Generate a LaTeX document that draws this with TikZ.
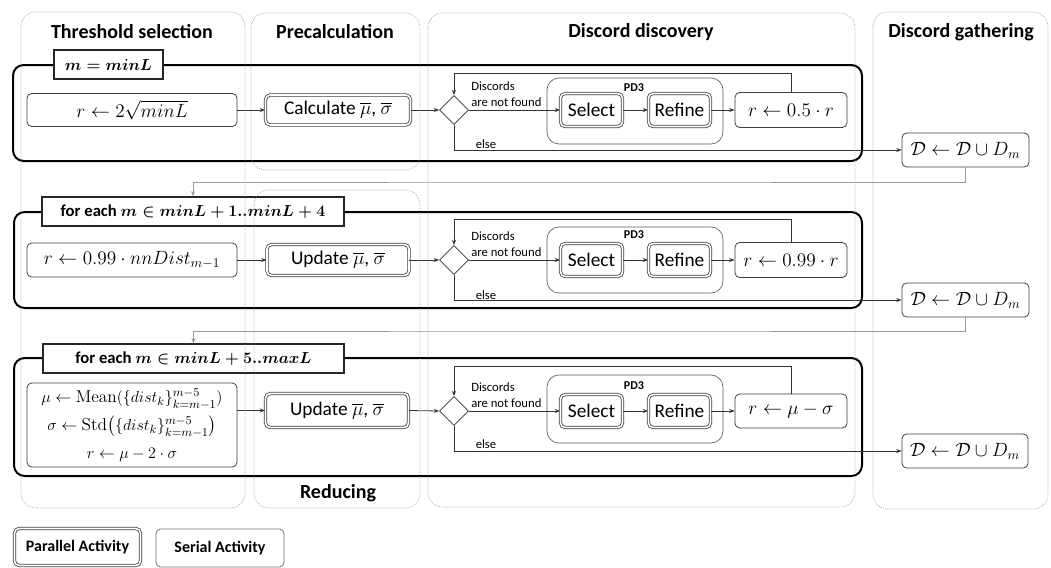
\documentclass[tikz,border=0pt]{standalone}
\usepackage{amsmath,amssymb}
\usepackage{fontspec}
\setmainfont{Carlito}
\newfontfamily\lmrm{Latin Modern Roman}
\usetikzlibrary{arrows.meta,shapes.geometric}
\begin{document}
\begin{tikzpicture}[x=0.75pt,y=-0.75pt,
  lane/.style={draw=black!45, densely dotted, line width=0.5pt, rounded corners=11pt},
  loopframe/.style={draw=black, line width=1.5pt, rounded corners=8pt},
  ttl/.style={font=\fontsize{15}{17}\selectfont\bfseries, inner sep=0pt},
  lbl/.style={draw=black!85, line width=0.8pt, fill=white, font=\fontsize{12.5}{14}\selectfont\bfseries\boldmath, inner sep=0pt},
  sbox/.style={draw=black!75, line width=0.6pt, rounded corners=3.5pt, fill=white, inner sep=0pt, font=\fontsize{14.5}{17}\selectfont},
  tbox/.style={font=\fontsize{14.5}{17}\selectfont},
  pbox/.style={sbox, double, double distance=1.2pt, line width=0.6pt},
  grp/.style={draw=black!65, line width=0.5pt, rounded corners=9pt},
  dia/.style={diamond, draw=black!80, line width=0.6pt, fill=white, inner sep=0pt, minimum width=29*0.75pt, minimum height=29*0.75pt},
  sz/.style 2 args={minimum width=#1*0.75pt, minimum height=#2*0.75pt},
  small/.style={font=\fontsize{9.5}{11.5}\selectfont, inner sep=0pt, align=left},
  pd/.style={font=\fontsize{9}{10}\selectfont\bfseries, inner sep=0pt},
  conn/.style={draw=black!80, line width=0.6pt, -{Stealth[length=4pt,width=3pt]}},
  back/.style={draw=black!40, line width=0.6pt, -{Stealth[length=4pt,width=3pt]}},
]
\useasboundingbox (0,0) rectangle (1051,568);
\fill[white] (0,0) rectangle (1051,568);

% titles
\node[ttl] (t1) at (132,32) {Threshold selection};
\node[ttl] (t2) at (335,32) {Precalculation};
\node[ttl] (t3) at (641,32) {Discord discovery};
\node[ttl] (t4) at (961,32) {Discord gathering};
\node[ttl] (t5) at (338,493) {Reducing};

% loop frames
\draw[loopframe] (13,65) rectangle (862,161);
\draw[loopframe] (14,212) rectangle (862,308);
\draw[loopframe] (14,358) rectangle (862,476);

\node[lbl, sz={109}{29}] (L1) at (108.5,64.5) {$m = minL$};
\node[lbl, sz={302}{29}] (L2) at (193,211.5) {for each $m \in minL + 1..minL + 4$};
\node[lbl, sz={301}{29}] (L3) at (193.5,358.5) {for each $m \in minL + 5..maxL$};

% ---------- row 1
\node[sbox, sz={210}{33}] (R1) at (132,110) {$r \leftarrow 2\sqrt{minL}$};
\node[pbox, tbox, sz={145}{30}] (C1) at (338,110) {Calculate $\overline{\mu}$, $\overline{\sigma}$};
\node[dia] (D1) at (454,110) {};
\node[grp, sz={176}{66}] (G1) at (635,111) {};
\node[pbox, sz={62}{33}] (S1) at (591.5,110) {Select};
\node[pbox, sz={62}{33}] (F1) at (679.5,110) {Refine};
\node[sbox, sz={112}{35}] (Q1) at (791,110) {$r \leftarrow 0.5\cdot r$};
\node[sbox, sz={127}{34}] (DD1) at (965.5,150) {$\mathcal{D} \leftarrow \mathcal{D} \cup D_m$};
\node[pd] (P1) at (634,88) {PD3};
\node[small, anchor=west] (n1) at (471,94) {Discords\\are not found};
\node[small] (e1) at (486,144) {else};
\coordinate (k1) at (454,73);
\coordinate (b1) at (580,182);

% ---------- row 2
\node[sbox, sz={210}{34}] (R2) at (132,260) {$r \leftarrow 0.99\cdot nnDist_{m-1}$};
\node[pbox, tbox, sz={142}{31}] (U2) at (338,260) {Update $\overline{\mu}$, $\overline{\sigma}$};
\node[dia] (D2) at (454,260) {};
\node[grp, sz={176}{66}] (G2) at (635,260) {};
\node[pbox, sz={62}{33}] (S2) at (591.5,260) {Select};
\node[pbox, sz={62}{33}] (F2) at (679.5,260) {Refine};
\node[sbox, sz={112}{35}] (Q2) at (791,260) {$r \leftarrow 0.99\cdot r$};
\node[sbox, sz={127}{34}] (DD2) at (965.5,300) {$\mathcal{D} \leftarrow \mathcal{D} \cup D_m$};
\node[pd] (P2) at (634,235) {PD3};
\node[small, anchor=west] (n2) at (471,244) {Discords\\are not found};
\node[small] (e2) at (486,295) {else};
\coordinate (k2) at (454,219);
\coordinate (b2) at (580,331);

% ---------- row 3
\node[sbox, sz={210}{84}, align=center, font=\fontsize{13}{21}\selectfont] (R3) at (132,425)
  {$\mu \leftarrow \text{\lmrm Mean}(\{dist_k\}_{k=m-1}^{m-5})$\\
   $\sigma \leftarrow \text{\lmrm Std}\bigl(\{dist_k\}_{k=m-1}^{m-5}\bigr)$\\
   $r \leftarrow \mu - 2\cdot\sigma$};
\node[pbox, tbox, sz={143}{34}] (U3) at (337,410.5) {Update $\overline{\mu}$, $\overline{\sigma}$};
\node[dia] (D3) at (454,411) {};
\node[grp, sz={176}{68}] (G3) at (635,409) {};
\node[pbox, sz={62}{33}] (S3) at (591.5,411) {Select};
\node[pbox, sz={62}{33}] (F3) at (679.5,411) {Refine};
\node[sbox, sz={112}{34}] (Q3) at (791,411) {$r \leftarrow \mu - \sigma$};
\node[sbox, sz={126}{34}] (DD3) at (965,451) {$\mathcal{D} \leftarrow \mathcal{D} \cup D_m$};
\node[pd] (P3) at (634,386) {PD3};
\node[small, anchor=west] (n3) at (471,395) {Discords\\are not found};
\node[small] (e3) at (486,444) {else};
\coordinate (k3) at (454,366);

% ---------- connectors
\foreach \i in {1,2,3}{
  \draw[conn] (D\i.east) -- (S\i.west);
  \draw[conn] (S\i.east) -- (F\i.west);
  \draw[conn] (F\i.east) -- (Q\i.west);
  \draw[conn] (Q\i.north) -- (Q\i.north |- k\i) -- (k\i) -- (D\i.north);
  \draw[conn] (D\i.south) |- (DD\i.west);
}
\draw[conn] (R1.east) -- (C1.west);
\draw[conn] (C1.east) -- (D1.west);
\draw[conn] (R2.east) -- (U2.west);
\draw[conn] (U2.east) -- (D2.west);
\draw[conn] (R3.east |- U3.west) -- (U3.west);
\draw[conn] (U3.east) -- (D3.west);
\draw[back] (DD1.south) |- (b1) -| (L2.north);
\draw[back] (DD2.south) |- (b2) -| (L3.north);

% legend
\node[pbox, sz={126}{37}, font=\fontsize{12}{14}\selectfont\bfseries] (LP) at (77.5,547) {Parallel Activity};
\node[sbox, sz={128}{38}, draw=black!55, font=\fontsize{12}{14}\selectfont\bfseries] (LS) at (220,548) {Serial Activity};

% swimlanes
\draw[lane] (21,12) rectangle (245,508);
\draw[lane] (251,13) rectangle (420,170);
\draw[lane] (254,190) rectangle (420,508);
\draw[lane] (428,13) rectangle (855,507);
\draw[lane] (873,12) rectangle (1048,509);
\end{tikzpicture}
\end{document}
